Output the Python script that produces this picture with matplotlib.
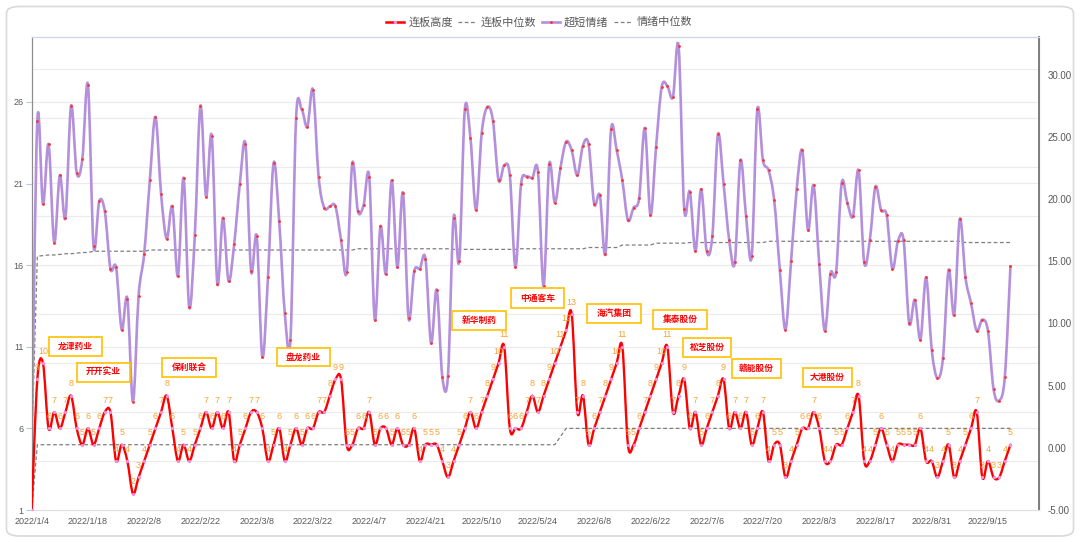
import numpy as np
import pandas as pd
import matplotlib
matplotlib.use('Agg')
import matplotlib.pyplot as plt
from matplotlib.path import Path
from matplotlib.patches import PathPatch, FancyBboxPatch, Rectangle
from matplotlib.lines import Line2D

plt.rcParams['font.family'] = ['Noto Sans CJK SC', 'DejaVu Sans']

# 交易日（剔除节假日）
holidays = ['2022-01-31', '2022-02-01', '2022-02-02', '2022-02-03', '2022-02-04',
            '2022-04-04', '2022-04-05', '2022-05-02', '2022-05-03', '2022-05-04',
            '2022-06-03', '2022-09-12']
dates = [d for d in pd.bdate_range('2022-01-04', '2022-09-21')
         if d.strftime('%Y-%m-%d') not in holidays]
date_labels = [f"{d.year}/{d.month}/{d.day}" for d in dates]

# 连板高度
lianban = [1, 9, 10, 6, 7, 6, 7, 8, 6, 5,
           6, 5, 6, 7, 7, 4, 5, 4, 2, 3,
           4, 5, 6, 7, 8, 6, 4, 5, 4, 5,
           6, 7, 6, 7, 6, 7, 4, 5, 6, 7,
           7, 6, 4, 5, 6, 4, 5, 6, 5, 6,
           6, 7, 7, 8, 9, 9, 5, 5, 6, 6,
           7, 5, 6, 6, 5, 6, 5, 5, 6, 4,
           5, 5, 5, 4, 3, 4, 5, 6, 7, 6,
           7, 8, 9, 10, 11, 6, 6, 6, 7, 8,
           7, 8, 9, 10, 11, 12, 13, 7, 8, 5,
           6, 7, 8, 9, 10, 11, 5, 5, 6, 7,
           8, 9, 10, 11, 7, 8, 9, 6, 7, 5,
           6, 7, 8, 9, 6, 7, 6, 7, 5, 6,
           7, 4, 5, 5, 3, 4, 5, 6, 6, 7,
           6, 4, 4, 5, 5, 6, 7, 8, 4, 4,
           5, 6, 5, 4, 5, 5, 5, 5, 6, 4,
           4, 3, 4, 5, 3, 4, 5, 6, 7, 3,
           4, 3, 3, 4, 5]

# 连板中位数
lianban_median = [1] + [5] * 93 + [5.5] + [6] * 80

# 超短情绪
qingxu = [0, 26.3, 19.6, 24.4, 16.5, 21.9, 18.5, 27.5, 22.1, 23.2,
          29.2, 16.2, 19.8, 19.0, 14.4, 14.5, 9.5, 12.0, 3.7, 12.2,
          15.6, 21.5, 26.6, 20.4, 16.8, 19.4, 13.8, 21.7, 11.3, 17.1,
          27.5, 20.2, 25.1, 13.2, 18.5, 13.4, 16.4, 21.2, 24.4, 14.2,
          17.0, 7.3, 13.7, 22.9, 18.2, 10.8, 8.7, 26.5, 27.2, 25.8,
          28.8, 21.8, 19.3, 19.4, 19.4, 16.7, 14.1, 22.9, 19.0, 19.5,
          21.8, 10.3, 17.8, 14.0, 21.5, 14.5, 20.5, 10.4, 14.2, 14.4,
          15.2, 8.4, 12.7, 5.7, 5.8, 18.5, 15.0, 27.2, 24.9, 19.1,
          25.3, 27.4, 26.3, 21.5, 22.7, 21.9, 14.5, 21.2, 21.8, 21.7,
          22.2, 13.0, 22.8, 19.7, 22.5, 24.6, 23.9, 21.9, 24.3, 24.4,
          19.6, 20.3, 15.6, 25.6, 23.9, 21.5, 18.3, 19.3, 20.1, 25.7,
          18.7, 24.2, 29.0, 29.1, 28.2, 32.3, 19.2, 20.6, 15.8, 20.8,
          15.8, 17.0, 25.2, 21.2, 16.7, 14.9, 23.1, 18.6, 15.4, 27.2,
          23.1, 22.3, 19.9, 14.3, 9.5, 15.0, 20.8, 23.9, 17.5, 21.1,
          14.8, 9.4, 14.0, 14.1, 21.3, 19.7, 18.6, 22.3, 14.9, 16.7,
          21.0, 19.1, 18.7, 14.4, 16.6, 16.7, 10.0, 11.9, 8.7, 13.7,
          7.9, 5.6, 7.2, 14.3, 10.7, 18.4, 13.7, 11.6, 9.4, 10.3,
          9.4, 4.7, 3.8, 5.7, 14.6]

# 情绪中位数
qingxu_median = ([0] + [15.4, 15.45, 15.5, 15.5, 15.55, 15.6, 15.6, 15.65, 15.7, 15.7]
                 + [15.8] * 10 + [15.9] * 37 + [16.0] * 17 + [15.95] * 12
                 + [16.0] * 12 + [16.1] * 6 + [16.3] * 6 + [16.45] * 6
                 + [16.5] * 14 + [16.6] * 35 + [16.5] * 9)

# 龙头标注: (名称, 左, 上, 右, 下) 像素
leaders = [('龙津药业', 49, 337, 102, 356),
           ('开开实业', 77, 363, 130, 382),
           ('保利联合', 162, 358, 216, 377),
           ('盘龙药业', 277, 348, 330, 366),
           ('新华制药', 452, 311, 506, 330),
           ('中通客车', 511, 288, 564, 308),
           ('海汽集团', 587, 304, 641, 323),
           ('集泰股份', 653, 310, 707, 329),
           ('松芝股份', 683, 338, 731, 357),
           ('赣能股份', 732, 359, 781, 378),
           ('大港股份', 803, 368, 852, 387)]

W, H = 1080, 542
GRAY = '#595959'


def smooth_path(x, y):
    """Excel 风格的平滑曲线 (Catmull-Rom 贝塞尔)"""
    n = len(x)
    verts = [(x[0], y[0])]
    codes = [Path.MOVETO]
    for i in range(n - 1):
        p0 = i - 1 if i > 0 else i
        p3 = i + 2 if i + 2 < n else i + 1
        c1 = (x[i] + (x[i + 1] - x[p0]) / 6, y[i] + (y[i + 1] - y[p0]) / 6)
        c2 = (x[i + 1] - (x[p3] - x[i]) / 6, y[i + 1] - (y[p3] - y[i]) / 6)
        verts += [c1, c2, (x[i + 1], y[i + 1])]
        codes += [Path.CURVE4] * 3
    return Path(verts, codes)


fig = plt.figure(figsize=(W / 100, H / 100), dpi=100)
fig.patch.set_facecolor('white')

# 外框
fig.add_artist(FancyBboxPatch((6.5 / W, 1 - 536 / H), (1073.5 - 6.5) / W, (536 - 6.5) / H,
                              boxstyle='round,pad=0,rounding_size=0.012',
                              transform=fig.transFigure, fc='none', ec='#D9D9D9',
                              lw=1.2, zorder=-10))

ax_l, ax_t, ax_r, ax_b = 31.7, 36.7, 1039, 510
ax = fig.add_axes([ax_l / W, 1 - ax_b / H, (ax_r - ax_l) / W, (ax_b - ax_t) / H])
ax2 = ax.twinx()

x = np.arange(len(lianban))

# 网格
for v in [4, 7, 10, 13, 16, 19, 22, 25, 28, 6, 11, 21, 26]:
    ax2.axhline(-5 + (v - 1) * 16.33 / 12.44, color='#EBEBEB', lw=0.8, zorder=0)

# 超短情绪 (右轴)
ax2.add_patch(PathPatch(smooth_path(x, np.array(qingxu, float)), fill=False,
                        ec='#B48FDC', lw=1.9, zorder=3, capstyle='round', joinstyle='round'))
ax2.plot(x, qingxu, ls='none', marker='o', ms=2.0, color='#FF3030', mec='none', zorder=4)
ax2.plot(x, qingxu_median, ls=(0, (3, 2)), color='#7F7F7F', lw=0.9, zorder=2)

# 连板高度 (左轴)
ax.add_patch(PathPatch(smooth_path(x, np.array(lianban, float)), fill=False,
                       ec='#FF0000', lw=1.7, zorder=3, capstyle='round', joinstyle='round'))
ax.plot(x, lianban, ls='none', marker='o', ms=2.4, color='#EE8FE0', mec='none', zorder=4)
ax.plot(x, lianban_median, ls=(0, (3, 2)), color='#7F7F7F', lw=0.9, zorder=2)

for i, v in enumerate(lianban):
    if v <= 1:
        continue
    ax.annotate(str(v), (i, v), xytext=(0, 8.6), textcoords='offset points',
                ha='center', va='center', fontsize=6.5, color='#F4A53B',
                family=['Liberation Sans', 'DejaVu Sans'], zorder=6)

ax.set_zorder(ax2.get_zorder() + 1)
ax.patch.set_visible(False)

ax.set_xlim(0, (ax_r - ax_l) / 5.625)
ax.set_ylim(1, 30)
ax2.set_ylim(-5, -5 + (ax_b - ax_t) / 12.44)

ax.set_yticks([1, 6, 11, 16, 21, 26])
ax2.set_yticks(np.arange(-5, 31, 5))
ax2.set_yticklabels([f"{v:.2f}" for v in np.arange(-5, 31, 5)])
ax.set_xticks(x[::10])
ax.set_xticklabels(date_labels[::10])

for a in (ax, ax2):
    for lab in a.get_xticklabels() + a.get_yticklabels():
        lab.set_family(['Liberation Sans', 'DejaVu Sans'])
        lab.set_color(GRAY)

ax.tick_params(axis='x', labelsize=6.5, length=0, pad=5)
ax.tick_params(axis='y', labelsize=6.5, length=4, color='#B4C7E7', pad=2)
ax2.tick_params(axis='y', labelsize=7, length=0, pad=6)

for a in (ax, ax2):
    a.spines['top'].set_color('#C9D7E6')
    a.spines['bottom'].set_color('#E0E0E0')
    a.spines['left'].set_color('#8C8C8C')
    a.spines['right'].set_color('#7F7F7F')
ax2.spines['right'].set_linewidth(1.4)

# 龙头股标注框
for name, x0, y0, x1, y1 in leaders:
    fig.add_artist(Rectangle((x0 / W, 1 - y1 / H), (x1 - x0) / W, (y1 - y0) / H,
                             transform=fig.transFigure, fc='white', ec='#FFC000',
                             lw=1.2, zorder=10))
    fig.text((x0 + x1) / 2 / W, 1 - (y0 + y1) / 2 / H, name, ha='center', va='center',
             fontsize=6.3, color='#FF0000', weight='bold', zorder=11)

# 图例
handles = [Line2D([], [], color='#FF0000', lw=1.8, marker='o', ms=2.4, mfc='#EE8FE0', mec='none'),
           Line2D([], [], color='#7F7F7F', lw=0.9, ls=(0, (3, 2))),
           Line2D([], [], color='#B48FDC', lw=1.9, marker='o', ms=2.0, mfc='#FF3030', mec='none'),
           Line2D([], [], color='#7F7F7F', lw=0.9, ls=(0, (3, 2)))]
labels = ['连板高度', '连板中位数', '超短情绪', '情绪中位数']
leg = fig.legend(handles, labels, loc='center', bbox_to_anchor=(539 / W, 1 - 22 / H),
                 ncol=4, frameon=False, fontsize=8, handlelength=1.6,
                 handletextpad=0.4, columnspacing=0.5)
for t in leg.get_texts():
    t.set_color(GRAY)

fig.savefig('out.png', dpi=100, facecolor='white')
